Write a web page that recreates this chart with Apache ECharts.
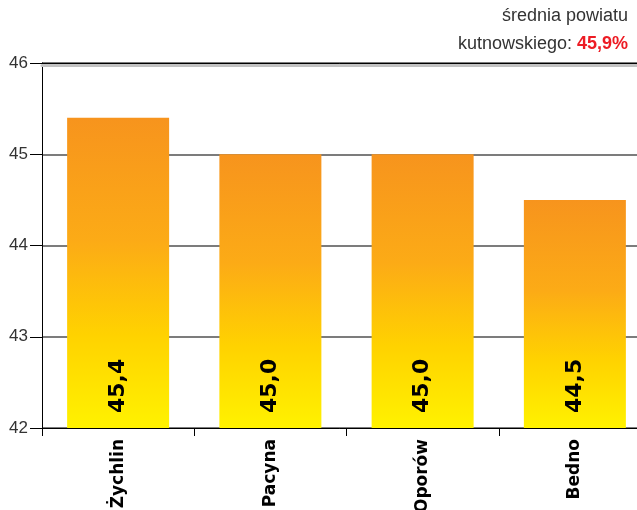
<!DOCTYPE html>
<html>
<head>
<meta charset="utf-8">
<script src="https://cdn.jsdelivr.net/npm/echarts@6/dist/echarts.min.js"></script>
<style>
  html, body { margin: 0; padding: 0; background: #fff; }
  #chart { width: 637px; height: 510px; }
</style>
</head>
<body>
<div id="chart"></div>
<script>
// Gminy i ich wyniki (%)
const categories = ['Żychlin', 'Pacyna', 'Oporów', 'Bedno'];
const values = [45.4, 45.0, 45.0, 44.5];
const countyAverage = 45.9;
const yTicks = [42, 43, 44, 45, 46];

const fmt = v => v.toFixed(1).replace('.', ',');
const FONT = '"Liberation Sans", Arial, sans-serif';
const BOLD_FONT = '"DejaVu Sans", "Liberation Sans", sans-serif';

const chart = echarts.init(document.getElementById('chart'), null, { renderer: 'canvas' });

chart.setOption({
  animation: false,
  graphic: [
    {
      type: 'text',
      right: 9,
      top: 7,
      style: {
        text: 'średnia powiatu',
        fontFamily: FONT,
        fontSize: 18,
        fill: '#333'
      }
    },
    {
      type: 'text',
      right: 9,
      top: 35,
      style: {
        text: 'kutnowskiego: {r|' + fmt(countyAverage) + '%}',
        fontFamily: FONT,
        fontSize: 18,
        fill: '#333',
        rich: {
          r: { fill: '#ed1c24', fontWeight: 'bold', fontSize: 18, fontFamily: FONT }
        }
      }
    }
  ],
  // plot area runs a little past the right edge of the page
  grid: { left: 42, width: 609, top: 63, bottom: 82, outerBoundsMode: 'none', containLabel: false },
  xAxis: [
    {
      type: 'category',
      data: categories,
      position: 'bottom',
      axisLine: { lineStyle: { color: '#000', width: 1 } },
      axisTick: { show: true, length: 8, lineStyle: { color: '#000' } },
      axisLabel: {
        rotate: 90,
        margin: 11,
        color: '#000',
        fontFamily: BOLD_FONT,
        fontWeight: 'bold',
        fontSize: 17
      },
      z: 5
    },
    {
      // grey band under the top frame line
      type: 'category',
      data: categories,
      position: 'top',
      offset: -2.5,
      axisLine: { lineStyle: { color: '#c2c2c2', width: 3 } },
      axisTick: { show: false },
      axisLabel: { show: false },
      z: 4
    },
    {
      type: 'category',
      data: categories,
      position: 'top',
      axisLine: { lineStyle: { color: '#000', width: 1 } },
      axisTick: { show: false },
      axisLabel: { show: false },
      z: 5
    }
  ],
  yAxis: {
    type: 'value',
    min: yTicks[0],
    max: yTicks[yTicks.length - 1],
    interval: 1,
    axisLine: { show: true, lineStyle: { color: '#000', width: 1 } },
    axisTick: { show: true, length: 12, lineStyle: { color: '#000' } },
    axisLabel: {
      margin: 14,
      color: '#333',
      fontFamily: FONT,
      fontSize: 17
    },
    splitLine: { show: true, lineStyle: { color: '#7c7c7c', width: 2 } }
  },
  series: [{
    type: 'bar',
    data: values,
    barWidth: '67%',
    itemStyle: {
      color: new echarts.graphic.LinearGradient(0, 0, 0, 1, [
        { offset: 0, color: '#f7941d' },
        { offset: 0.4, color: '#fcab16' },
        { offset: 0.7, color: '#ffd200' },
        { offset: 1, color: '#fff200' }
      ])
    },
    label: {
      show: true,
      position: 'insideBottom',
      distance: 15,
      rotate: 90,
      align: 'left',
      verticalAlign: 'middle',
      color: '#000',
      fontFamily: BOLD_FONT,
      fontWeight: 'bold',
      fontSize: 22,
      formatter: p => fmt(p.value)
    }
  }]
});
</script>
</body>
</html>
